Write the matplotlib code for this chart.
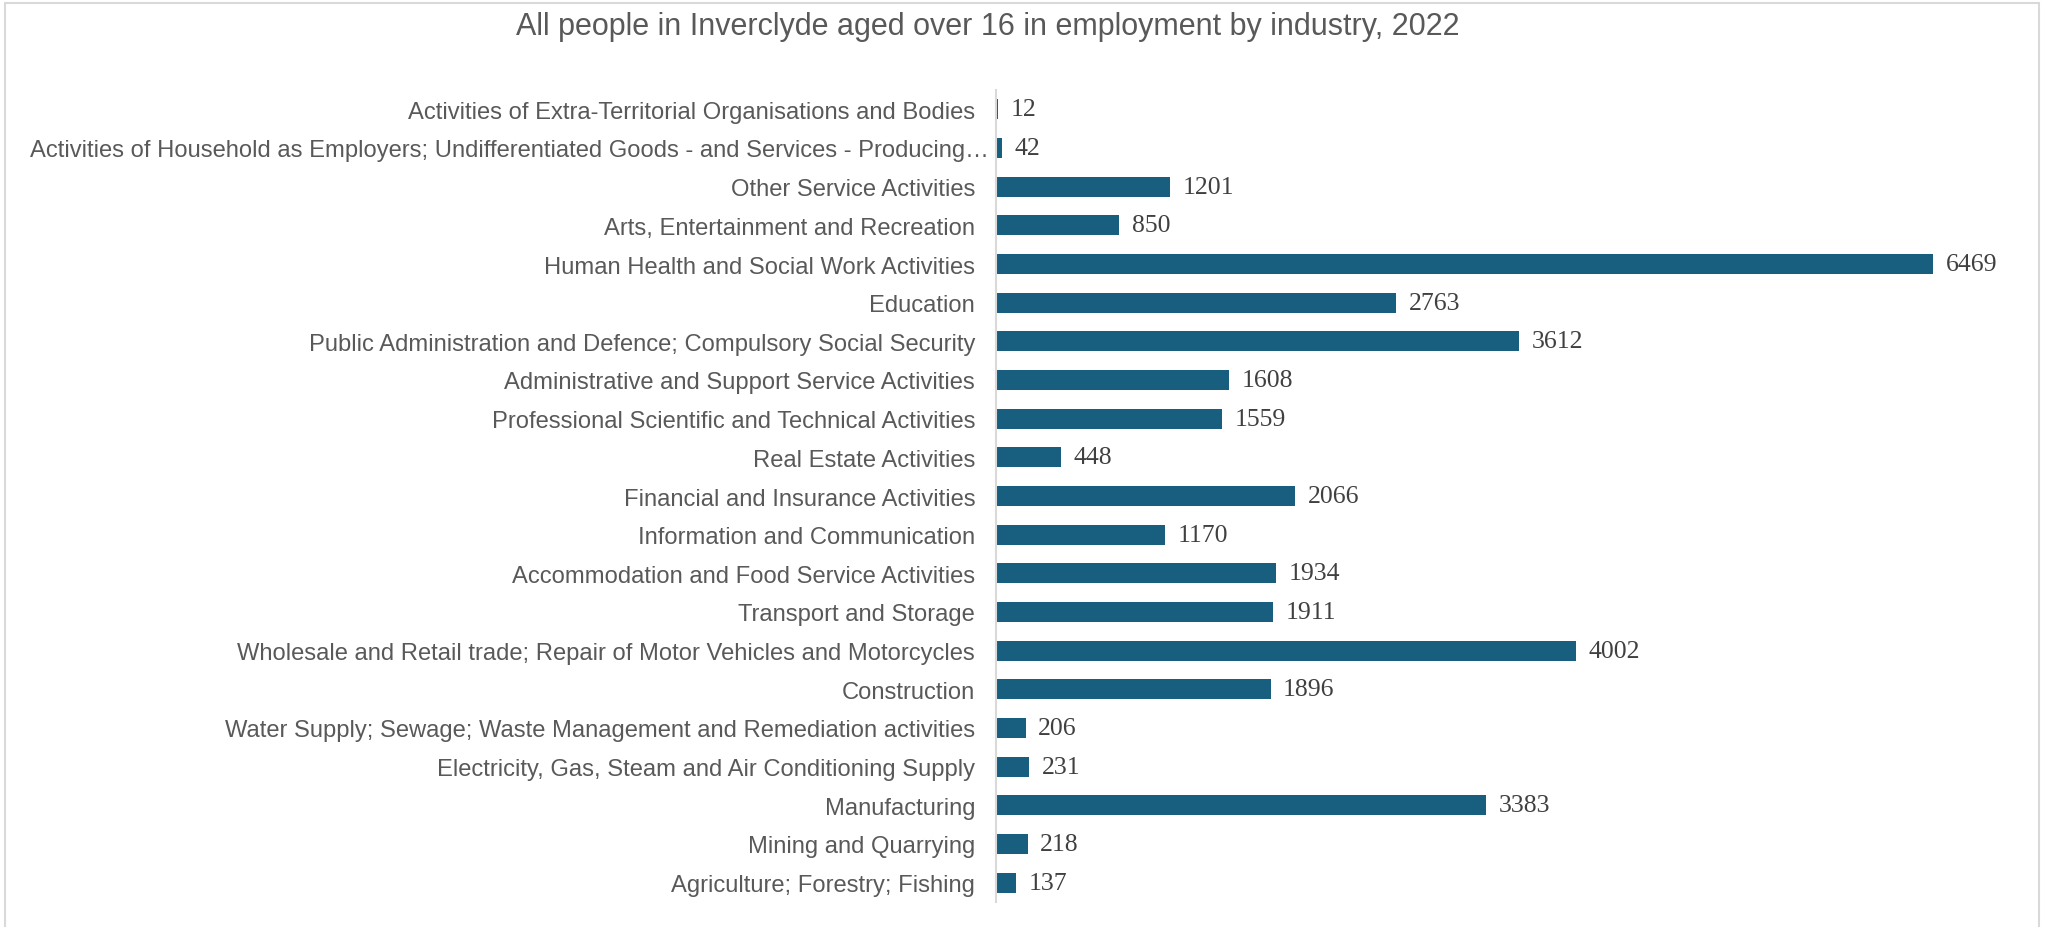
import matplotlib.pyplot as plt
import matplotlib.patches as mpatches
import matplotlib.transforms as mtransforms

plt.rcParams["font.family"] = ["Liberation Sans", "DejaVu Sans"]

# bottom to top, as the bars appear
industries = [
    "Agriculture; Forestry; Fishing",
    "Mining and Quarrying",
    "Manufacturing",
    "Electricity, Gas, Steam and Air Conditioning Supply",
    "Water Supply; Sewage; Waste Management and Remediation activities",
    "Construction",
    "Wholesale and Retail trade; Repair of Motor Vehicles and Motorcycles",
    "Transport and Storage",
    "Accommodation and Food Service Activities",
    "Information and Communication",
    "Financial and Insurance Activities",
    "Real Estate Activities",
    "Professional Scientific and Technical Activities",
    "Administrative and Support Service Activities",
    "Public Administration and Defence; Compulsory Social Security",
    "Education",
    "Human Health and Social Work Activities",
    "Arts, Entertainment and Recreation",
    "Other Service Activities",
    "Activities of Household as Employers; Undifferentiated Goods - and Services - Producing\u2026",
    "Activities of Extra-Territorial Organisations and Bodies",
]
employed = [137, 218, 3383, 231, 206, 1896, 4002, 1911, 1934, 1170, 2066,
            448, 1559, 1608, 3612, 2763, 6469, 850, 1201, 42, 12]

title = "All people in Inverclyde aged over 16 in employment by industry, 2022"

bar_color = "#175E7F"
label_color = "#595959"

fig = plt.figure(figsize=(20.49, 9.28), dpi=100)

# light frame round the chart, cut off at the bottom like the reference
frame = mpatches.Rectangle((5 / 2049, -0.05), 2034 / 2049, 1.05 - 4 / 928,
                           transform=fig.transFigure, fill=False,
                           edgecolor="#D9D9D9", lw=1.5)
fig.patches.append(frame)

ax = fig.add_axes([996 / 2049, 25 / 928, 1014 / 2049, 812 / 928])
pos = range(len(industries))
ax.barh(pos, employed, height=0.51, color=bar_color)

for y, v in zip(pos, employed):
    ax.annotate(str(v), (v, y), xytext=(9, 0), textcoords="offset points",
                va="center", ha="left", fontsize=18.5,
                family="Liberation Serif", color="#404040")

ax.set_xlim(0, 7000)
ax.set_ylim(-0.5, len(industries) - 0.5)
ax.set_yticks(list(pos))
ax.set_yticklabels(industries, fontsize=17.1, color=label_color)
ax.tick_params(axis="y", length=0, pad=15)
ax.set_xticks([])
for side in ["top", "right", "bottom"]:
    ax.spines[side].set_visible(False)
ax.spines["left"].set_color("#D9D9D9")
ax.spines["left"].set_linewidth(1.5)

# the truncated label runs up to the axis line in the original
long_lbl = ax.get_yticklabels()[19]
shift = mtransforms.ScaledTranslation(14 / 100, 0, fig.dpi_scale_trans)
long_lbl.set_transform(long_lbl.get_transform() + shift)

fig.text(988 / 2049, 1 - 27 / 928, title, ha="center", va="center",
         fontsize=22, color=label_color)

plt.savefig("out.png", dpi=100)
